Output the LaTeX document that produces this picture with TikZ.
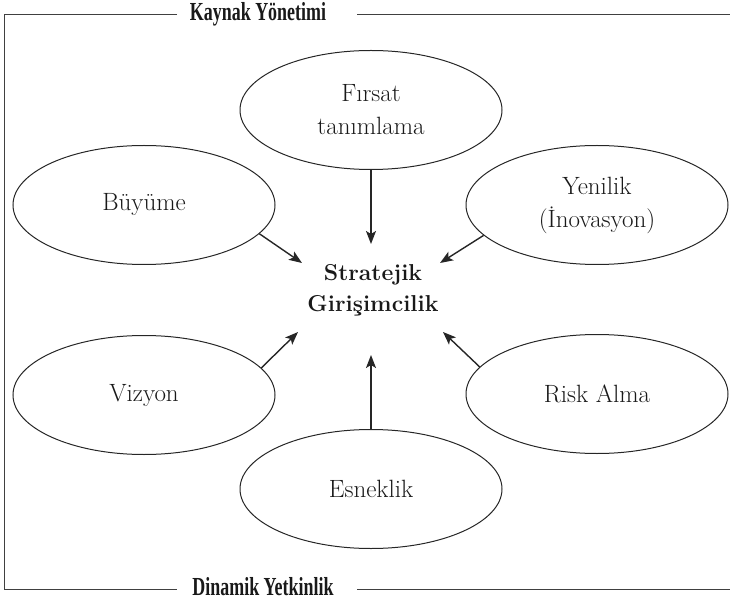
\documentclass[tikz,border=0pt]{standalone}
\usepackage{fontspec}
\usetikzlibrary{shapes.geometric,arrows.meta}
\newfontfamily\condfont[FakeStretch=0.69]{Liberation Serif}
\begin{document}
\begin{tikzpicture}[x=1pt,y=-1pt,
  oval/.style={ellipse,draw=black!85,line width=1pt,minimum width=262pt,minimum height=119pt,inner sep=0pt,align=center,font=\fontsize{25}{33}\selectfont,text=black!90},
  arr/.style={line width=1.4pt,draw=black!85,-{Stealth[length=13pt,width=10pt,inset=3pt]}},
  frame/.style={line width=0.9pt,draw=black!75},
  ttl/.style={font=\condfont\bfseries\fontsize{26}{26}\selectfont,inner sep=0pt,text=black!90}]
\useasboundingbox (0,0) rectangle (730,601);
% frame
\node[ttl] (kt) at (258,14) {Kaynak Yönetimi};
\node[ttl] (dy) at (263,587) {Dinamik Yetkinlik};
\coordinate (ktl) at (177,14);
\coordinate (ktr) at (357,14);
\coordinate (dyl) at (177,589);
\coordinate (dyr) at (357,589);
\draw[frame] (ktl) -- (4,14) -- (4,589) -- (dyl);
\draw[frame] (ktr) -- (730,14);
\draw[frame] (dyr) -- (730,589);
% center
\node[align=center,font=\bfseries\fontsize{23}{31}\selectfont,text=black!90] (c) at (373,290) {Stratejik\\Girişimcilik};
% ellipses
\node[oval] (fir) at (371,110) {Fırsat\\tanımlama};
\node[oval] (buy) at (144,205) {Büyüme};
\node[oval] (yen) at (597,205) {Yenilik\\(İnovasyon)};
\node[oval] (viz) at (144,395) {Vizyon};
\node[oval] (risk) at (597,394) {Risk Alma};
\node[oval] (esn) at (371,489) {Esneklik};
% arrow tips
\coordinate (t1) at (371,244);
\coordinate (t2) at (302,263);
\coordinate (t3) at (440,263);
\coordinate (t4) at (298,332);
\coordinate (t5) at (443,332);
\coordinate (t6) at (371,355);
\draw[arr] (fir.south) -- (t1);
\draw[arr] (buy.-14) -- (t2);
\draw[arr] (yen.195) -- (t3);
\draw[arr] (viz.13) -- (t4);
\draw[arr] (risk.167) -- (t5);
\draw[arr] (esn.north) -- (t6);
\end{tikzpicture}
\end{document}
